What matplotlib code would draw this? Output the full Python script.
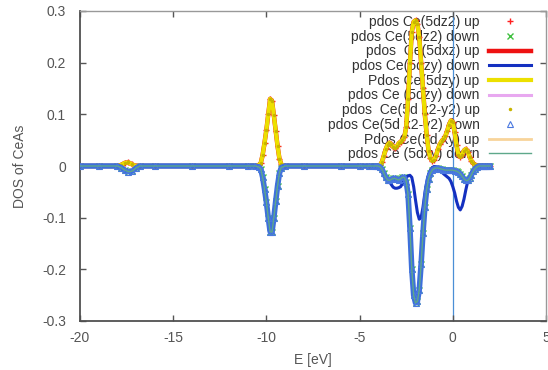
import matplotlib
matplotlib.use("Agg")
import matplotlib.pyplot as plt

plt.rcParams['font.family'] = ['Liberation Sans', 'DejaVu Sans']
plt.rcParams['axes.unicode_minus'] = False

# ---------------- data ----------------
energy = [-20.0, -19.0, -18.0, -17.8, -17.6, -17.4, -17.2, -17.0, -16.8, -16.0,
          -14.0, -12.0, -11.0, -10.6, -10.4, -10.3, -10.2, -10.1, -10.0, -9.9,
          -9.8, -9.7, -9.6, -9.5, -9.4, -9.3, -9.2, -9.0, -8.0, -6.0, -5.0, -4.5,
          -4.2, -4.1, -4.0, -3.9, -3.8, -3.7, -3.6, -3.5, -3.4, -3.3, -3.2, -3.1,
          -3.0, -2.9, -2.8, -2.7, -2.6, -2.5, -2.4, -2.3, -2.2, -2.1, -2.0, -1.9,
          -1.8, -1.7, -1.6, -1.5, -1.4, -1.3, -1.2, -1.1, -1.0, -0.9, -0.8, -0.7,
          -0.6, -0.5, -0.4, -0.3, -0.2, -0.1, 0.0, 0.1, 0.2, 0.3, 0.4, 0.5, 0.6,
          0.7, 0.8, 0.9, 1.0, 1.1, 1.2, 1.3, 1.4, 1.5, 1.6, 1.7, 1.8, 1.9, 2.0]

# spin-up pdos (5dz2 up, 5dxz up, 5dzy up, 5d x2-y2 up, 5d xy up)
pdos_up = [0.0, 0.0, 0.0, 0.002, 0.006, 0.007, 0.003, 0.0, 0.0, 0.0,
           0.0, 0.0, 0.0, 0.0, 0.002, 0.006, 0.022, 0.045, 0.07, 0.1,
           0.13, 0.126, 0.098, 0.068, 0.038, 0.014, 0.003, 0.0, 0.0, 0.0, 0.0, 0.0,
           0.0, 0.0, 0.0, 0.002, 0.008, 0.02, 0.032, 0.041, 0.045, 0.042, 0.037, 0.035,
           0.038, 0.044, 0.047, 0.05, 0.056, 0.075, 0.13, 0.2, 0.26, 0.279, 0.282, 0.275,
           0.25, 0.2, 0.15, 0.1, 0.06, 0.03, 0.015, 0.01, 0.012, 0.02, 0.032, 0.042,
           0.048, 0.052, 0.058, 0.068, 0.08, 0.088, 0.085, 0.065, 0.04, 0.022, 0.018, 0.022, 0.03,
           0.033, 0.028, 0.018, 0.01, 0.005, 0.002, 0.0, 0.0, 0.0, 0.0, 0.0, 0.0, 0.0, 0.0]

# spin-down pdos (5dz2 down, 5d x2-y2 down, 5dxy down, 5dzy down (Ce))
pdos_down = [0.0, 0.0, 0.0, -0.003, -0.008, -0.011, -0.01, -0.004, 0.0, 0.0,
             0.0, 0.0, 0.0, 0.0, -0.002, -0.006, -0.022, -0.045, -0.07, -0.1,
             -0.127, -0.128, -0.1, -0.068, -0.038, -0.014, -0.003, 0.0, 0.0, 0.0, 0.0, 0.0,
             0.0, 0.0, 0.0, -0.002, -0.006, -0.014, -0.022, -0.027, -0.028, -0.026, -0.024, -0.024,
             -0.026, -0.027, -0.025, -0.022, -0.022, -0.03, -0.055, -0.12, -0.2, -0.25, -0.265, -0.262,
             -0.24, -0.19, -0.13, -0.08, -0.045, -0.025, -0.014, -0.008, -0.005, -0.004, -0.004, -0.005,
             -0.006, -0.007, -0.008, -0.008, -0.008, -0.008, -0.008, -0.009, -0.01, -0.012, -0.015, -0.02, -0.025,
             -0.028, -0.028, -0.024, -0.017, -0.01, -0.005, -0.002, 0.0, 0.0, 0.0, 0.0, 0.0, 0.0, 0.0]

# spin-down pdos Ce(5dzy)
pdos_dzy_down = [0.0, 0.0, 0.0, -0.003, -0.008, -0.011, -0.01, -0.004, 0.0, 0.0,
                 0.0, 0.0, 0.0, 0.0, -0.002, -0.006, -0.022, -0.045, -0.07, -0.1,
                 -0.127, -0.128, -0.1, -0.068, -0.038, -0.014, -0.003, 0.0, 0.0, 0.0, 0.0, 0.0,
                 0.0, 0.0, 0.0, -0.002, -0.006, -0.012, -0.018, -0.024, -0.03, -0.036, -0.041, -0.043,
                 -0.043, -0.042, -0.04, -0.034, -0.027, -0.022, -0.019, -0.018, -0.022, -0.04, -0.066, -0.09,
                 -0.103, -0.1, -0.08, -0.053, -0.032, -0.016, -0.008, -0.003, -0.001, -0.001, -0.003, -0.006,
                 -0.011, -0.015, -0.018, -0.021, -0.024, -0.03, -0.04, -0.052, -0.068, -0.08, -0.085, -0.078, -0.064,
                 -0.046, -0.03, -0.02, -0.012, -0.007, -0.004, -0.002, 0.0, 0.0, 0.0, 0.0, 0.0, 0.0, 0.0]

labels = ["pdos Ce(5dz2) up", "pdos Ce(5dz2) down", "pdos  Ce(5dxz) up",
          "pdos Ce(5dzy) down", "Pdos Ce(5dzy) up", "pdos Ce (5dzy) down",
          "pdos  Ce(5d x2-y2) up", "pdos Ce(5d x2-y2) down", "Pdos Ce(5d xy) up",
          "pdos Ce (5dxy) down"]

xticks = [-20, -15, -10, -5, 0, 5]
yticks = [-0.3, -0.2, -0.1, 0.0, 0.1, 0.2, 0.3]
yticklabels = ["-0.3", "-0.2", "-0.1", "0", "0.1", "0.2", "0.3"]

# ---------------- figure ----------------
fig = plt.figure(figsize=(5.48, 3.70), dpi=100)
ax = fig.add_axes([80 / 548, 1 - 321 / 370, (546 - 80) / 548, (321 - 11) / 370])

ax.axvline(0, color='#4a8fd6', lw=0.9, zorder=1.5)

h = []
h.append(ax.plot(energy, pdos_up, ls='none', marker='+', ms=4, mew=1, color='#ff2020',
                 zorder=2.0, label=labels[0])[0])
h.append(ax.plot(energy, pdos_down, ls='none', marker='x', ms=4, mew=1, color='#40c040',
                 zorder=2.1, label=labels[1])[0])
h.append(ax.plot(energy, pdos_up, color='#ee1111', lw=3.2, zorder=2.2, label=labels[2])[0])
h.append(ax.plot(energy, pdos_dzy_down, color='#1430c0', lw=2.2, zorder=2.3, label=labels[3])[0])
h.append(ax.plot(energy, pdos_up, color='#ece000', lw=3.0, zorder=2.4, label=labels[4])[0])
h.append(ax.plot(energy, pdos_down, color='#e8a8f0', lw=2.2, zorder=1.9, label=labels[5])[0])
h.append(ax.plot(energy, pdos_up, ls='none', marker='.', ms=3, color='#c8b400',
                 zorder=2.5, label=labels[6])[0])
ax.plot(energy, pdos_down, color='#3d6fdc', lw=4.0, zorder=2.6)
h.append(ax.plot(energy, pdos_down, ls='none', marker='^', ms=4, mew=0.8, mfc='none',
                 color='#4a78e0', zorder=2.65, label=labels[7])[0])
h.append(ax.plot(energy, pdos_up, color='#f8d49a', lw=2.0, zorder=1.8, label=labels[8])[0])
h.append(ax.plot(energy, pdos_down, color='#5ea88a', lw=1.0, zorder=2.7, label=labels[9])[0])

ax.set_xlim(-20, 5)
ax.set_ylim(-0.3, 0.3)
ax.set_xticks(xticks)
ax.set_xticklabels([str(t) for t in xticks])
ax.set_yticks(yticks)
ax.set_yticklabels(yticklabels)

ax.tick_params(direction='in', length=4, width=1, colors='#555555', labelsize=10,
               top=True, right=True)
ax.tick_params(axis='x', pad=7)
ax.tick_params(axis='y', pad=10)
for side in ['left', 'bottom']:
    ax.spines[side].set_color('#505050')
    ax.spines[side].set_linewidth(1.3)
for side in ['top', 'right']:
    ax.spines[side].set_color('#999999')
    ax.spines[side].set_linewidth(1.0)

ax.set_xlabel("E [eV]", fontsize=10, color='#555555', labelpad=6)
ax.set_ylabel("DOS of CeAs", fontsize=10, color='#555555', labelpad=11)

leg = ax.legend(handles=h, loc='upper right', bbox_to_anchor=(531 / 548, 1 - 15 / 370),
                bbox_transform=fig.transFigure, frameon=False, markerfirst=False,
                fontsize=10, handlelength=3.0, handletextpad=0.7, labelspacing=0.05,
                borderpad=0, borderaxespad=0)
for t in leg.get_texts():
    t.set_color('#333333')
leg.set_zorder(1)

fig.savefig("out.png", dpi=100)
